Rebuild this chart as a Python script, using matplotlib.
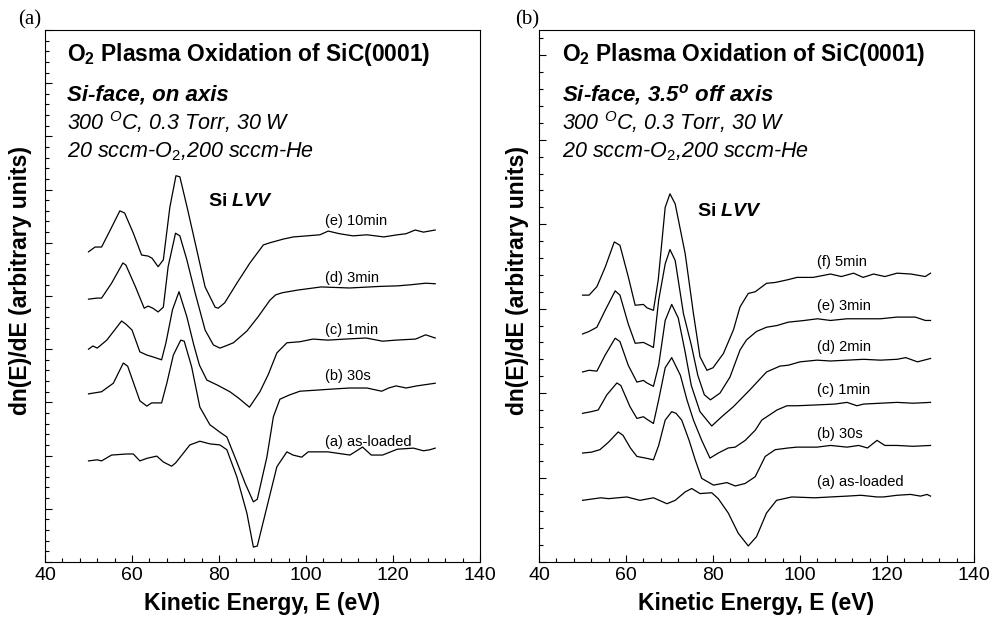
import numpy as np
import matplotlib
matplotlib.use('Agg')
import matplotlib.pyplot as plt
from matplotlib.ticker import MultipleLocator

plt.rcParams['font.family'] = 'Liberation Sans'
plt.rcParams['mathtext.fontset'] = 'custom'
plt.rcParams['mathtext.rm'] = 'Liberation Sans'
plt.rcParams['mathtext.it'] = 'Liberation Sans:italic'
plt.rcParams['mathtext.bf'] = 'Liberation Sans:bold'
plt.rcParams['mathtext.bfit'] = 'Liberation Sans:bold:italic'

# ---- panel (a): Si-face, on axis ----
a_labels = ['(a) as-loaded', '(b) 30s', '(c) 1min', '(d) 3min', '(e) 10min']
a_label_y = [2.26, 3.50, 4.36, 5.34, 6.41]

a_E_e = [50, 51.5, 53, 55, 57.2, 58.3, 60.3, 62.2, 63.7, 64.6, 66, 67.2, 68.7, 70.1, 71, 72.8, 74.9, 76.8, 79.1, 79.8,
         81.3, 84.1, 87.1, 90.2, 91.7, 94.8, 97.1, 100.2, 103.2, 105.1, 107.7, 110.8, 114, 117.9, 121, 123, 125.1, 127, 129.7]
a_y_e = [5.83, 5.92, 5.92, 6.24, 6.60, 6.56, 6.18, 5.77, 5.75, 5.71, 5.55, 5.68, 6.67, 7.26, 7.24, 6.62, 5.86, 5.17, 4.79, 4.77,
         4.87, 5.24, 5.62, 5.96, 6.00, 6.07, 6.11, 6.13, 6.15, 6.22, 6.17, 6.13, 6.15, 6.11, 6.15, 6.17, 6.24, 6.20, 6.24]

a_E_d = [50, 51.9, 53, 55.3, 57.9, 58.6, 60.8, 62.8, 63.7, 64.8, 66, 67.2, 68.3, 70, 71, 72.6, 74.5, 76.8, 78.7, 80.2,
         81.5, 83.3, 86.4, 89, 91.7, 93, 94.5, 98, 103.5, 110, 117, 121, 124, 127.5, 129.7]
a_y_d = [4.94, 4.96, 4.96, 5.24, 5.62, 5.58, 5.17, 4.77, 4.81, 4.77, 4.70, 4.79, 5.55, 6.18, 6.13, 5.68, 5.06, 4.36, 4.08, 4.02,
         4.06, 4.12, 4.34, 4.61, 4.92, 5.02, 5.06, 5.11, 5.17, 5.15, 5.18, 5.19, 5.21, 5.24, 5.23]

a_E_c = [50, 51, 52, 54.2, 57.6, 58.6, 60, 61.8, 63.4, 65, 66.8, 67.8, 69.3, 70.8, 72.6, 74.2, 75.5, 77.2, 79.5, 82.5,
         84.5, 87, 89.4, 91.3, 93.3, 95.6, 98.6, 101.6, 105, 109, 113.8, 117.6, 120.6, 125.2, 127.5, 129.7]
a_y_c = [4.00, 4.06, 4.02, 4.17, 4.53, 4.47, 4.36, 3.95, 3.89, 3.85, 3.80, 4.12, 4.74, 5.08, 4.61, 4.08, 3.70, 3.42, 3.33, 3.20,
         3.08, 2.91, 3.20, 3.52, 3.93, 4.12, 4.14, 4.19, 4.17, 4.19, 4.21, 4.15, 4.17, 4.19, 4.27, 4.21]

a_E_b = [50, 51.5, 53, 55.7, 58, 59, 61.8, 63.4, 64.5, 66.8, 68, 69.5, 71.2, 72, 73.7, 75.6, 77.9, 80.2, 81.8, 84.1,
         86, 87.9, 88.8, 91, 92.5, 94, 96.2, 98.6, 102.4, 106, 110, 114, 117.4, 119, 120.7, 123, 125.5, 129.7]
a_y_b = [3.16, 3.18, 3.20, 3.36, 3.74, 3.68, 3.03, 2.93, 2.99, 2.99, 3.36, 3.89, 4.17, 4.15, 3.67, 2.91, 2.58, 2.44, 2.35, 1.88,
         1.48, 1.13, 1.18, 1.97, 2.73, 3.06, 3.14, 3.21, 3.23, 3.25, 3.27, 3.27, 3.21, 3.27, 3.31, 3.27, 3.31, 3.36]

a_E_a = [50, 52, 53, 55.3, 58.8, 60.3, 61.8, 63.5, 65.7, 67.2, 69.1, 70, 73.3, 75.6, 77.9, 80.2, 81.8, 84.1, 86.4, 87.9,
         88.8, 91, 93.3, 95.6, 97, 99, 100.5, 105, 110.1, 113, 115, 117.6, 121, 124.7, 127, 128.5, 129.7]
a_y_a = [1.90, 1.92, 1.90, 2.01, 2.03, 2.03, 1.90, 1.95, 1.99, 1.88, 1.80, 1.86, 2.20, 2.27, 2.22, 2.20, 2.11, 1.60, 0.92, 0.28,
         0.30, 1.03, 1.79, 2.07, 2.01, 1.97, 2.07, 2.07, 2.01, 2.16, 2.01, 2.01, 2.12, 2.14, 2.09, 2.11, 2.14]

# ---- panel (b): Si-face, 3.5 deg off axis ----
b_labels = ['(a) as-loaded', '(b) 30s', '(c) 1min', '(d) 2min', '(e) 3min', '(f) 5min']
b_label_y = [0.95, 1.52, 2.04, 2.55, 3.03, 3.55]

b_E_f = [50, 51.5, 53.3, 55.2, 57.3, 58.6, 60.5, 62.1, 64, 64.8, 66.3, 67.4, 69, 70.1, 71.3, 73.6, 75.5, 77, 78.6, 80,
         82.4, 84.7, 86.2, 88.1, 89.7, 92.3, 94.3, 97, 99.3, 103, 107, 109.5, 112.3, 114.5, 116.9, 119.5, 122.3, 125.5, 128.8, 130]
b_y_f = [3.16, 3.16, 3.26, 3.49, 3.79, 3.75, 3.38, 3.04, 3.05, 3.01, 2.98, 3.34, 4.20, 4.36, 4.24, 3.65, 2.94, 2.43, 2.27, 2.30,
         2.47, 2.75, 3.02, 3.18, 3.20, 3.30, 3.31, 3.34, 3.37, 3.37, 3.41, 3.38, 3.42, 3.37, 3.41, 3.38, 3.42, 3.41, 3.38, 3.42]

b_E_e = [50, 51.5, 53.3, 55.2, 57.5, 58.6, 60.5, 62.1, 64, 64.8, 66.3, 67.5, 69, 70.1, 71.3, 73.2, 75, 76.5, 78, 79.4,
         81.6, 83.9, 86.2, 87.7, 90, 92.3, 94.7, 97.3, 101, 104, 107, 110.8, 114.6, 118.5, 122.3, 126.5, 128.8, 130]
b_y_e = [2.70, 2.73, 2.78, 2.98, 3.21, 3.16, 2.82, 2.59, 2.60, 2.58, 2.54, 3.10, 3.53, 3.70, 3.57, 2.94, 2.57, 2.21, 1.98, 1.92,
         2.00, 2.19, 2.51, 2.63, 2.73, 2.78, 2.80, 2.84, 2.86, 2.88, 2.86, 2.88, 2.88, 2.88, 2.90, 2.90, 2.86, 2.86]

b_E_d = [50, 51.5, 53.3, 55.2, 57.5, 58.6, 60.5, 62.5, 64, 64.8, 66.3, 67.5, 69, 70.5, 72, 73.5, 75, 77, 79.7, 82,
         84.7, 88.5, 92.3, 95.4, 97.3, 100, 103.9, 107, 110.8, 114.6, 118.5, 122.3, 124.3, 127, 130]
b_y_d = [2.25, 2.27, 2.26, 2.45, 2.65, 2.61, 2.33, 2.13, 2.15, 2.12, 2.08, 2.33, 2.86, 3.05, 2.89, 2.51, 2.09, 1.78, 1.61, 1.72,
         1.84, 2.04, 2.25, 2.32, 2.33, 2.37, 2.39, 2.38, 2.39, 2.40, 2.39, 2.40, 2.42, 2.37, 2.41]

b_E_c = [50, 52, 53.6, 55.6, 57.9, 58.8, 60.9, 62.5, 64, 64.8, 66.3, 67.5, 69, 70.5, 72.5, 74, 75.5, 77.4, 79.3, 81.2,
         83.5, 85.1, 87.4, 89.7, 91.2, 94.7, 97, 99.3, 103.9, 108, 110.8, 113.1, 114.6, 118.5, 122.3, 126, 130]
b_y_c = [1.76, 1.78, 1.80, 1.98, 2.12, 2.09, 1.84, 1.70, 1.72, 1.69, 1.64, 1.92, 2.30, 2.42, 2.21, 1.92, 1.68, 1.44, 1.23, 1.29,
         1.35, 1.36, 1.44, 1.56, 1.68, 1.80, 1.85, 1.85, 1.86, 1.87, 1.89, 1.85, 1.87, 1.88, 1.89, 1.88, 1.89]

b_E_b = [50, 52, 54, 56, 58.2, 59.3, 61, 62.5, 64.5, 66.3, 67.5, 69, 70.5, 71.5, 72.8, 74.5, 75.9, 77.4, 80.1, 83.2,
         85.1, 87.4, 89.7, 92, 94.3, 97.3, 99.3, 103.9, 107, 110.8, 113.5, 115.5, 117.7, 119.5, 122.3, 126, 130]
b_y_b = [1.29, 1.30, 1.33, 1.42, 1.54, 1.50, 1.35, 1.25, 1.23, 1.21, 1.38, 1.68, 1.78, 1.76, 1.68, 1.44, 1.21, 0.99, 0.91, 0.94,
         0.90, 0.93, 1.01, 1.25, 1.33, 1.35, 1.36, 1.36, 1.38, 1.36, 1.38, 1.35, 1.44, 1.38, 1.38, 1.37, 1.38]

b_E_a = [50, 54.2, 56, 60.2, 63.2, 66.3, 69.4, 71.3, 73.6, 75.1, 77, 79.7, 81.2, 83.5, 85.8, 88.1, 90, 92.3, 94.6, 98.1,
         103.4, 107, 110.8, 114, 117.7, 119.2, 122.3, 125.4, 127.7, 129.2, 130]
b_y_a = [0.73, 0.76, 0.75, 0.77, 0.73, 0.76, 0.69, 0.73, 0.83, 0.87, 0.81, 0.82, 0.75, 0.58, 0.34, 0.19, 0.30, 0.58, 0.73, 0.77,
         0.76, 0.77, 0.78, 0.79, 0.77, 0.77, 0.79, 0.80, 0.78, 0.80, 0.78]

fig = plt.figure(figsize=(9.94, 6.27), dpi=100)
ax1 = fig.add_axes([0.0453, 0.1037, 0.4376, 0.8485])
ax2 = fig.add_axes([0.5423, 0.1037, 0.4376, 0.8485])


def style_axis(ax, ytop, ylab_x):
    ax.set_xlim(40, 140)
    ax.set_ylim(0, ytop)
    ax.xaxis.set_major_locator(MultipleLocator(20))
    ax.xaxis.set_minor_locator(MultipleLocator(4))
    ax.yaxis.set_major_locator(MultipleLocator(1))
    ax.yaxis.set_minor_locator(MultipleLocator(0.2))
    ax.tick_params(which='both', direction='in', top=False, right=False, width=0.8, labelsize=14)
    ax.tick_params(which='major', length=5)
    ax.tick_params(which='minor', length=3)
    ax.set_yticklabels([])
    for s in ax.spines.values():
        s.set_linewidth(0.8)
    ax.set_xlabel('Kinetic Energy, E (eV)', fontsize=16.5, fontweight='bold', labelpad=6)
    ax.set_ylabel('dn(E)/dE (arbitrary units)', fontsize=16.5, fontweight='bold')
    ax.yaxis.set_label_coords(ylab_x, 0.53)


style_axis(ax1, 10, -0.03)
style_axis(ax2, 6.3, -0.023)

for E, y in [(a_E_a, a_y_a), (a_E_b, a_y_b), (a_E_c, a_y_c), (a_E_d, a_y_d), (a_E_e, a_y_e)]:
    ax1.plot(E, y, color='black', lw=0.9, solid_joinstyle='round')
for lab, ly in zip(a_labels, a_label_y):
    ax1.text(104.4, ly, lab, fontsize=10.5, va='center', ha='left')

for E, y in [(b_E_a, b_y_a), (b_E_b, b_y_b), (b_E_c, b_y_c), (b_E_d, b_y_d), (b_E_e, b_y_e), (b_E_f, b_y_f)]:
    ax2.plot(E, y, color='black', lw=0.9, solid_joinstyle='round')
for lab, ly in zip(b_labels, b_label_y):
    ax2.text(103.9, ly, lab, fontsize=10.5, va='center', ha='left')

ax1.text(77.5, 6.77, r'Si $\mathbfit{LVV}$', fontsize=14, fontweight='bold', va='center')
ax2.text(76.3, 4.15, r'Si $\mathbfit{LVV}$', fontsize=14, fontweight='bold', va='center')

title = r'O$_\mathbf{2}$ Plasma Oxidation of SiC(0001)'
ax1.text(0.05, 0.953, title, transform=ax1.transAxes, fontsize=16.4, fontweight='bold', va='center')
ax2.text(0.053, 0.953, title, transform=ax2.transAxes, fontsize=16.4, fontweight='bold', va='center')

ax1.text(0.05, 0.878, 'Si-face, on axis', transform=ax1.transAxes, fontsize=16,
         fontweight='bold', style='italic', va='center')
ax2.text(0.053, 0.878, r'Si-face, 3.5$^\mathbfit{o}$ off axis', transform=ax2.transAxes, fontsize=16,
         fontweight='bold', style='italic', va='center')

for ax, x0 in [(ax1, 0.05), (ax2, 0.053)]:
    ax.text(x0, 0.827, r'300 $^{O}$C, 0.3 Torr, 30 W', transform=ax.transAxes, fontsize=15.5,
            style='italic', va='center')
    ax.text(x0, 0.771, r'20 sccm-O$_\mathit{2}$,200 sccm-He', transform=ax.transAxes, fontsize=15.5,
            style='italic', va='center')

fig.text(0.030, 0.968, '(a)', fontsize=15, family='Liberation Serif', ha='center', va='center')
fig.text(0.530, 0.968, '(b)', fontsize=15, family='Liberation Serif', ha='center', va='center')

fig.savefig('out.png', dpi=100)
